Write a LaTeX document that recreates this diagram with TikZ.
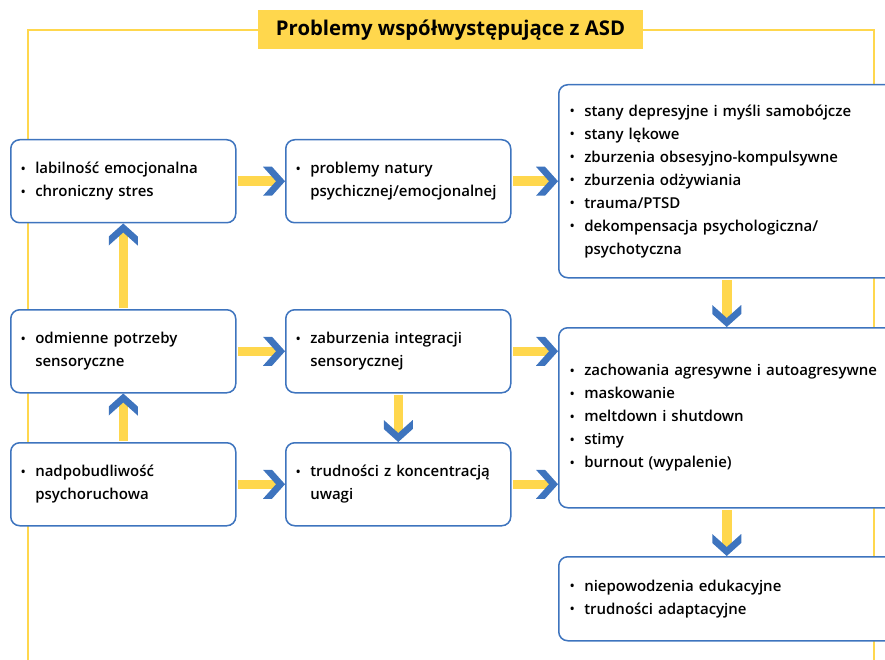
\documentclass[tikz,border=0pt]{standalone}
\usepackage{fontspec}
\setmainfont{Open Sans}
\newcommand\bodysize{\fontsize{15}{23}\selectfont}
\IfFontExistsTF{Open Sans Semibold}
  {\newfontfamily\semib{Open Sans Semibold}}
  {\IfFontExistsTF{OpenSans-Semibold.otf}
    {\newfontfamily\semib{OpenSans-Semibold.otf}}
    {\IfFontExistsTF{OpenSans-SemiBold.ttf}
      {\newfontfamily\semib{OpenSans-SemiBold.ttf}}
      {\IfFontExistsTF{OpenSans-Semibold.ttf}
        {\newfontfamily\semib{OpenSans-Semibold.ttf}}
        {\newfontfamily\semib{Open Sans}\renewcommand\bodysize{\fontsize{15.4}{23}\selectfont}}}}}
\definecolor{bl}{RGB}{62,116,190}
\definecolor{yl}{RGB}{255,215,77}
\newcommand\itm[1]{\makebox[14.5pt][l]{\raisebox{0.5pt}{\scalebox{0.85}{\textbullet}}}#1}
\newcommand\cnt[1]{\hspace*{14.5pt}#1}
\begin{document}
\begin{tikzpicture}[x=1pt,y=-1pt,
  box/.style={draw=bl, line width=1.5pt, rounded corners=9pt, fill=white, anchor=north west,
    inner xsep=10pt, inner ysep=0pt, align=left, font=\bodysize\semib},
  lbox/.style={box, minimum height=83pt, text width=205pt},
  rbox/.style={box, text width=320pt, inner xsep=11pt},
  frame/.style={draw=yl, line width=1.5pt},
  shaft/.style={draw=yl, line width=9.5pt, shorten <=1.5pt, shorten >=8pt},
  chev/.pic={\fill[bl] (0,0) -- (-13,-14.5) -- (-22,-14.5) -- (-9,0) -- (-22,14.5) -- (-13,14.5) -- cycle;}
]
\useasboundingbox (0,0) rectangle (885,660);
% title and frame
\node[fill=yl, minimum width=385pt, minimum height=39pt, inner sep=0pt,
  font=\bfseries\fontsize{20.3}{23}\selectfont] (T) at (450.5,30) {Problemy współwystępujące z ASD};
\draw[frame] (T.west) -- (28,30) -- (28,662);
\draw[frame] (T.east) -- (874,30) -- (874,662);
% boxes
\node[lbox] (A) at (10,139) {\itm{labilność emocjonalna}\\\itm{chroniczny stres}};
\node[lbox] (B) at (285,139) {\itm{problemy natury}\\\cnt{psychicznej/emocjonalnej}};
\node[rbox, minimum height=193pt] (C) at (558,84) {\itm{stany depresyjne i myśli samobójcze}\\\itm{stany lękowe}\\\itm{zburzenia obsesyjno-kompulsywne}\\\itm{zburzenia odżywiania}\\\itm{trauma/PTSD}\\\itm{dekompensacja psychologiczna/}\\\cnt{psychotyczna}};
\node[lbox] (D) at (10,309) {\itm{odmienne potrzeby}\\\cnt{sensoryczne}};
\node[lbox] (E) at (285,309) {\itm{zaburzenia integracji}\\\cnt{sensorycznej}};
\node[rbox, minimum height=180pt] (F) at (558,327) {\itm{zachowania agresywne i autoagresywne}\\\itm{maskowanie}\\\itm{meltdown i shutdown}\\\itm{stimy}\\\itm{burnout (wypalenie)}};
\node[lbox] (G) at (10,442) {\itm{nadpobudliwość}\\\cnt{psychoruchowa}};
\node[lbox] (H) at (285,442) {\itm{trudności z koncentracją}\\\cnt{uwagi}};
\node[rbox, minimum height=84pt] (I) at (558,556) {\itm{niepowodzenia edukacyjne}\\\itm{trudności adaptacyjne}};
% arrows
\coordinate (CS) at ([xshift=-3pt]C.south);
\coordinate (FN) at (CS |- F.north);
\coordinate (FS) at (CS |- F.south);
\coordinate (IN) at (CS |- I.north);
\coordinate (EF) at (E.east -| F.west);
\coordinate (HF) at (H.east -| F.west);
\foreach \a/\b in {A.east/B.west, B.east/C.west, D.east/E.west, G.east/H.west,
  E.east/EF, H.east/HF, D.north/A.south, G.north/D.south, E.south/H.north,
  CS/FN, FS/IN}{
  \draw[shaft] (\a) -- (\b);
  \path (\a) -- (\b) pic[pos=1, sloped, allow upside down]{chev};
}
\end{tikzpicture}
\end{document}
